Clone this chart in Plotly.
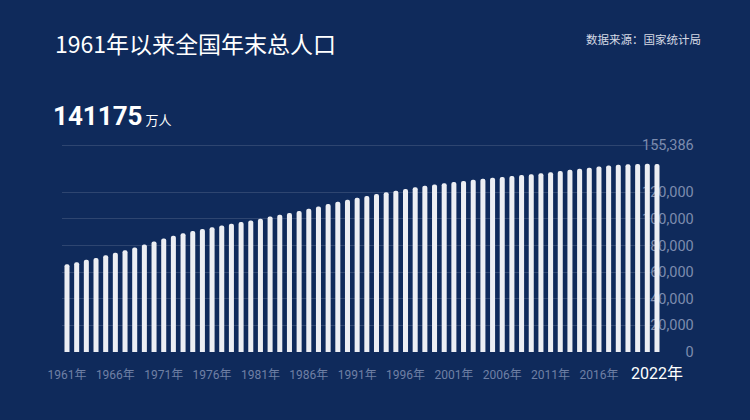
import plotly.graph_objects as go

years = list(range(1961, 2023))
population = [
    65859, 67295, 69172, 70499, 72538, 74542, 76368, 78534, 80671, 82992,
    85229, 87177, 89211, 90859, 92420, 93717, 94974, 96259, 97542, 98705,
    100072, 101654, 103008, 104357, 105851, 107507, 109300, 111026, 112704, 114333,
    115823, 117171, 118517, 119850, 121121, 122389, 123626, 124761, 125786, 126743,
    127627, 128453, 129227, 129988, 130756, 131448, 132129, 132802, 133450, 134091,
    134916, 135922, 136726, 137646, 138326, 139232, 140011, 140541, 141008, 141212,
    141260, 141175,
]
x_tick_years = [1961, 1966, 1971, 1976, 1981, 1986, 1991, 1996, 2001, 2006, 2011, 2016, 2022]
y_tick_vals = [0, 20000, 40000, 60000, 80000, 100000, 120000, 155386]
title_text = "1961年以来全国年末总人口"
source_text = "数据来源：国家统计局"
headline_value = "141175"
headline_unit = "万人"

BG = "#0f2a5b"
NUM = "Roboto, Noto Sans CJK SC, sans-serif"
CJK = "Noto Sans CJK SC, sans-serif"

x_ticktext = []
for y in x_tick_years:
    if y == x_tick_years[-1]:
        x_ticktext.append(f'<span style="font-size:16px;color:#ffffff">{y}年</span>')
    else:
        x_ticktext.append(f"{y}年")

fig = go.Figure(
    go.Bar(
        x=years,
        y=population,
        width=0.52,
        marker=dict(color="#eceef3", cornerradius=2.5, line=dict(width=0)),
        hoverinfo="x+y",
    )
)

fig.update_layout(
    width=750,
    height=420,
    margin=dict(l=0, r=0, t=0, b=0),
    paper_bgcolor=BG,
    plot_bgcolor=BG,
    showlegend=False,
    xaxis=dict(
        domain=[0.08288, 0.88243],
        range=[1960.5, 2022.5],
        tickvals=x_tick_years,
        ticktext=x_ticktext,
        tickfont=dict(family=NUM, size=12, color="#6f80a5"),
        ticks="outside",
        ticklen=12,
        tickcolor=BG,
        showgrid=False,
        zeroline=False,
        showline=False,
        automargin=False,
    ),
    yaxis=dict(
        domain=[0.16190, 0.65988],
        range=[0, 157000],
        tickvals=y_tick_vals,
        tickformat=",d",
        tickfont=dict(family=NUM, size=14.5, color="#7d8cae"),
        anchor="free",
        position=0.925,
        side="left",
        ticks="",
        showgrid=True,
        gridcolor="rgba(255,255,255,0.13)",
        gridwidth=1,
        zeroline=False,
        showline=False,
        layer="below traces",
        automargin=False,
    ),
    annotations=[
        dict(
            text=title_text, x=53 / 750, y=(420 - 43) / 420, xref="paper", yref="paper",
            xanchor="left", yanchor="middle", showarrow=False,
            font=dict(family=CJK, size=23, color="#ffffff"),
        ),
        dict(
            text=source_text, x=703 / 750, y=(420 - 39) / 420, xref="paper", yref="paper",
            xanchor="right", yanchor="middle", showarrow=False,
            font=dict(family=CJK, size=11.5, color="#d5dae5"),
        ),
        dict(
            text=f'<b>{headline_value}</b><span style="font-size:13px;font-family:Noto Sans CJK SC"> {headline_unit}</span>',
            x=51 / 750, y=(420 - 133) / 420, xref="paper", yref="paper",
            xanchor="left", yanchor="bottom", showarrow=False,
            font=dict(family=NUM, size=26, color="#ffffff"),
        ),
    ],
)

fig.write_html("out.html")
